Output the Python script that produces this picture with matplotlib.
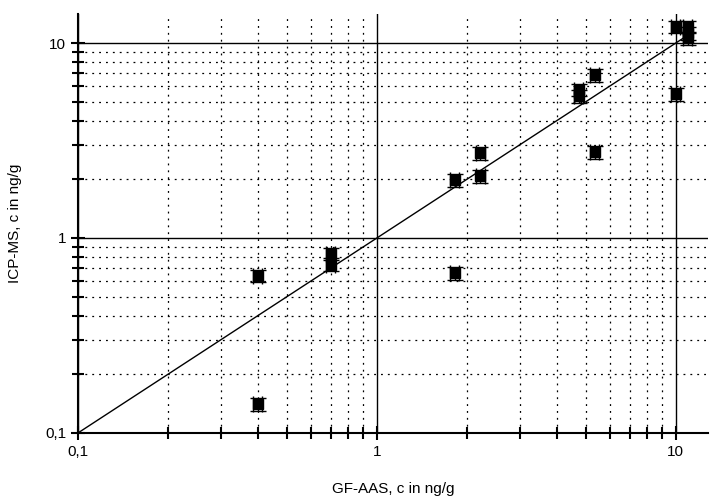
import matplotlib
matplotlib.use("Agg")
import matplotlib.pyplot as plt
from matplotlib.ticker import LogLocator, FuncFormatter, NullFormatter
import numpy as np

plt.rcParams['font.family'] = ['Liberation Sans', 'DejaVu Sans']

# GF-AAS vs ICP-MS concentrations (ng/g)
gf_aas = [0.40, 0.40, 0.70, 0.70, 1.82, 1.82, 2.22, 2.22, 4.73, 4.73,
          5.36, 5.36, 10.0, 10.0, 10.95, 10.95, 10.95]
icp_ms = [0.64, 0.14, 0.83, 0.73, 0.66, 1.98, 2.73, 2.08, 5.75, 5.35,
          6.85, 2.76, 5.47, 12.1, 12.1, 11.2, 10.6]
x_err_rel = 0.035
y_err_rel = 0.075

line_x = [0.1, 10.8]

def comma_fmt(v, pos):
    if v >= 1:
        return f"{v:.0f}"
    return f"{v:g}".replace('.', ',')

fig = plt.figure(figsize=(7.1, 4.97), dpi=100)
ax = fig.add_axes([0.110, 0.129, 0.887, 0.843])

x = np.array(gf_aas)
y = np.array(icp_ms)
ax.errorbar(x, y, xerr=x * x_err_rel, yerr=y * y_err_rel, fmt='s',
            color='black', ms=7, elinewidth=1, capsize=6, capthick=1, zorder=4)
ax.plot(line_x, line_x, color='black', linewidth=1, zorder=3)

ax.set_xscale('log')
ax.set_yscale('log')
ax.set_xlim(0.1, 12.8)
ax.set_ylim(0.1, 14.1)

for axis in (ax.xaxis, ax.yaxis):
    axis.set_major_locator(LogLocator(base=10))
    axis.set_minor_locator(LogLocator(base=10, subs=np.arange(2, 10)))
    axis.set_major_formatter(FuncFormatter(comma_fmt))
    axis.set_minor_formatter(NullFormatter())

ax.grid(True, which='major', color='black', linestyle='-', linewidth=1)
ax.grid(True, which='minor', color='black', linestyle=(0, (1.5, 4)), linewidth=0.9)
ax.set_axisbelow(True)

ax.spines['top'].set_visible(False)
ax.spines['right'].set_visible(False)
ax.spines['left'].set_linewidth(1.5)
ax.spines['bottom'].set_linewidth(1.5)

ax.tick_params(which='major', direction='inout', length=10, width=1.5,
               labelsize=11, color='black')
ax.tick_params(which='minor', direction='inout', length=8, width=1.5)

ax.set_xlabel('GF-AAS, c in ng/g', fontsize=11, labelpad=17)
ax.set_ylabel('ICP-MS, c in ng/g', fontsize=11, labelpad=17)

fig.savefig('out.png', dpi=100)
